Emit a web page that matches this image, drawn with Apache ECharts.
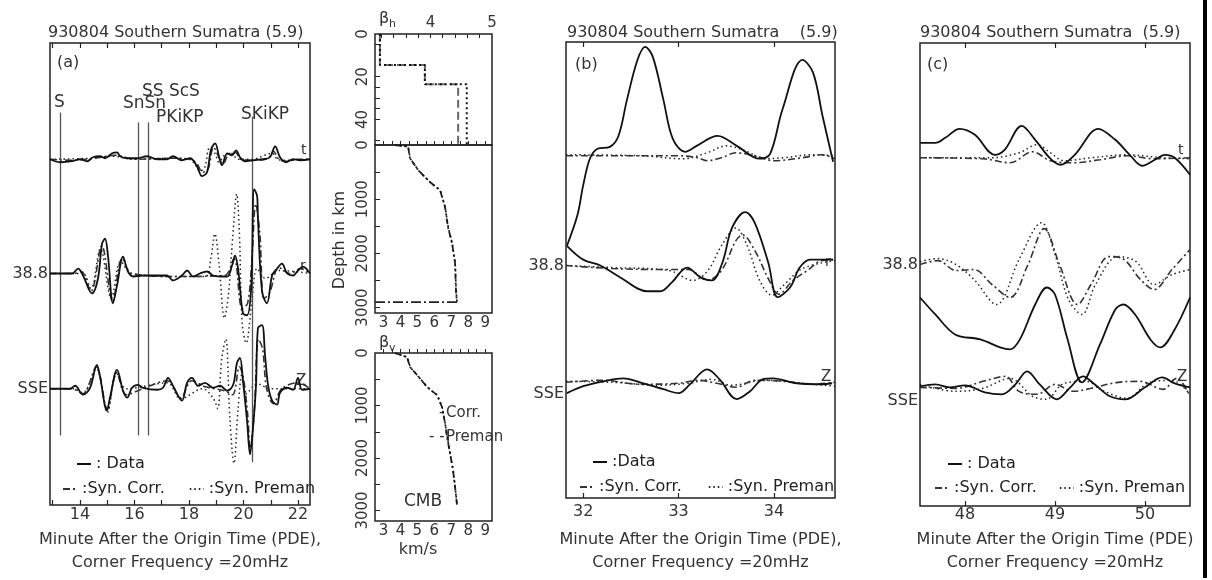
<!DOCTYPE html>
<html>
<head>
<meta charset="utf-8">
<title>930804 Southern Sumatra</title>
<script src="https://cdn.jsdelivr.net/npm/echarts@6/dist/echarts.min.js"></script>
<style>
html, body { margin: 0; padding: 0; background: #fff; }
#chart { width: 1212px; height: 580px; }
</style>
</head>
<body>
<div id="chart"></div>
<script>
// ---- panel (a): time (min), amplitude relative to the trace baseline
const aBase = [34.8, 23.3, 11.7]; // t, r, z
const aTData = [[12.9,0],[13.27,-0.3],[13.71,-0.2],[14.0,0],[14.26,-0.2],[14.48,0.2],[14.73,0.3],[14.92,0.1],[15.18,0.6],[15.36,0.7],[15.47,0.3],[15.73,0.1],[16.09,0.1],[16.46,0.3],[16.83,0],[17.19,0],[17.41,0.3],[17.74,-0.1],[18.04,0.1],[18.29,-0.7],[18.48,-1.7],[18.66,-1.3],[18.81,1.0],[18.96,1.6],[19.1,0.3],[19.21,-0.6],[19.4,0.6],[19.58,0.4],[19.73,0.9],[19.87,0.2],[20.06,-0.2],[20.35,-0.1],[20.72,0],[20.97,0.2],[21.16,1.3],[21.34,0.2],[21.56,-0.3],[21.82,0],[22.07,-0.1],[22.44,0]];
const aTCorr = [[12.9,0],[13.6,-0.1],[14.5,0.1],[15.3,0.4],[16.0,0],[17.4,0.1],[18.05,0],[18.3,-0.5],[18.5,-1.3],[18.7,-1.0],[18.9,1.2],[19.1,0.2],[19.25,-0.5],[19.45,0.5],[19.7,0.7],[19.9,0],[20.4,-0.1],[20.9,0.1],[21.1,0.8],[21.3,0],[21.6,-0.2],[22.0,0],[22.44,0]];
const aTPreman = [[12.9,0],[14.4,0.1],[15.2,0.3],[16.0,0],[17.3,0.1],[18.0,0],[18.2,-0.4],[18.4,-1.2],[18.58,-0.8],[18.75,1.1],[18.95,0.6],[19.1,-0.3],[19.3,0.4],[19.55,0.6],[19.8,0],[20.3,0],[21.05,0.6],[21.25,0],[21.6,-0.1],[22.44,0]];
const aRData = [[12.9,0],[13.71,0],[13.93,0.5],[14.11,-0.2],[14.44,-2.0],[14.66,-0.5],[14.81,3.0],[14.92,3.5],[15.03,1.7],[15.21,-3.0],[15.36,-1.2],[15.58,1.7],[15.76,0.2],[15.95,-0.3],[16.31,-0.2],[16.83,-0.2],[17.19,-0.2],[17.41,-0.7],[17.74,-0.2],[17.93,0.3],[18.15,-0.3],[18.4,0],[18.66,0.2],[18.88,-0.2],[19.14,-0.3],[19.4,-0.3],[19.58,0.8],[19.69,1.8],[19.8,0.5],[19.98,-4.0],[20.13,-4.2],[20.28,-1.5],[20.39,8.5],[20.5,7.8],[20.53,5.5],[20.68,-1.8],[20.86,-3.0],[21.05,-0.2],[21.23,0.5],[21.41,1.0],[21.6,0],[21.82,-0.2],[22.0,0.3],[22.18,0.7],[22.44,0]];
const aRCorr = [[12.9,0],[13.8,0],[14.05,0.2],[14.4,-1.8],[14.8,2.8],[15.2,-2.8],[15.55,1.5],[15.9,0],[17.5,-0.3],[19.3,-0.2],[19.65,1.5],[19.95,-3.5],[20.15,-3.0],[20.3,1.0],[20.45,7.0],[20.6,4.0],[20.75,-2.5],[20.95,-2.0],[21.3,0.6],[21.7,0],[22.1,0.5],[22.44,0]];
const aRPreman = [[12.9,0],[13.9,0],[14.1,0.1],[14.4,-1.5],[14.75,2.5],[15.15,-2.5],[15.5,1.2],[15.9,0],[17.5,-0.3],[18.6,-0.3],[18.8,1.5],[18.95,4.0],[19.1,1.0],[19.3,-4.5],[19.45,-2.0],[19.6,3.5],[19.75,8.0],[19.85,4.0],[19.95,-5.0],[20.1,-7.0],[20.3,-3.0],[20.5,0.5],[20.8,-0.5],[21.3,0.3],[22.44,0]];
const aZData = [[12.9,0],[13.63,0],[13.82,0.3],[14.11,-0.6],[14.37,0.1],[14.62,2.4],[14.73,1.3],[14.99,-2.2],[15.1,-0.9],[15.36,1.9],[15.58,-0.2],[15.73,-0.9],[15.91,0.1],[16.13,0.4],[16.31,0.1],[16.83,-0.1],[17.05,0.1],[17.23,1.1],[17.41,0.3],[17.74,-1.2],[17.93,0.6],[18.11,1.1],[18.33,0.3],[18.59,0.6],[18.88,0.1],[19.14,0.3],[19.4,-0.2],[19.62,0.4],[19.76,2.6],[19.87,3.1],[19.98,0.8],[20.13,-3.2],[20.24,-6.6],[20.35,-3.9],[20.46,0.4],[20.53,6.1],[20.68,6.4],[20.79,3.4],[20.9,0.4],[21.05,-1.2],[21.23,-1.6],[21.34,-0.4],[21.6,0.1],[21.82,-0.1],[22.0,1.1],[22.15,-0.1],[22.44,0]];
const aZCorr = [[12.9,0],[13.7,0],[14.1,-0.5],[14.6,2.2],[15.0,-2.0],[15.35,1.6],[15.7,-0.6],[16.3,0],[17.2,0.8],[17.7,-0.9],[18.1,0.8],[18.6,0.2],[19.3,-0.2],[19.6,-0.6],[19.85,2.2],[20.0,1.0],[20.15,-2.5],[20.25,-6.0],[20.4,-2.0],[20.55,5.0],[20.7,4.0],[20.85,0],[21.1,-1.5],[21.4,0],[22.0,0.6],[22.44,0]];
const aZPreman = [[12.9,0],[13.75,0],[14.1,-0.4],[14.6,2.0],[15.0,-2.4],[15.35,1.5],[15.7,0],[17.2,0.6],[17.7,-1.0],[18.5,0],[18.9,-1.0],[19.05,-2.0],[19.2,3.0],[19.35,5.0],[19.5,-3.0],[19.65,-7.5],[19.8,-2.0],[19.95,1.5],[20.1,-0.5],[20.5,0.5],[21.0,0],[22.44,0]];
const phaseTimes = [13.27, 16.13, 16.5, 20.31];
const phaseTops = [39.5, 38.5, 38.5, 39.1];
const phaseBottoms = [7.0, 7.0, 7.0, 4.3];

// ---- panel (b)
const bBase = [34.6, 23.5, 11.6];
const bTData = [[31.83,-9.1],[31.94,-6.0],[32.0,-3.0],[32.07,-0.3],[32.15,0.7],[32.28,0.9],[32.37,2.0],[32.46,5.7],[32.57,9.7],[32.65,11.0],[32.73,10.0],[32.84,5.7],[32.94,1.7],[33.07,0.4],[33.19,1.0],[33.41,2.0],[33.61,1.0],[33.85,-0.3],[33.96,0.2],[34.09,4.7],[34.3,9.7],[34.41,8.4],[34.51,4.0],[34.62,-0.6]];
const bTCorr = [[31.82,0],[32.5,0],[33.0,0],[33.2,-0.2],[33.3,-0.5],[33.45,-0.2],[33.6,0.3],[33.8,0],[34.0,-0.5],[34.3,-0.2],[34.5,0.1],[34.64,-0.3]];
const bTPreman = [[31.82,0.1],[32.6,0],[33.05,-0.3],[33.3,0.3],[33.5,1.0],[33.7,0.5],[33.9,-0.3],[34.1,-0.2],[34.4,0.1],[34.64,0]];
const bRData = [[31.83,2.0],[32.0,0.6],[32.18,0],[32.39,-1.2],[32.67,-2.6],[32.81,-2.6],[32.93,-1.7],[33.09,-0.2],[33.23,-1.2],[33.35,-1.5],[33.46,0.3],[33.56,3.8],[33.7,5.4],[33.8,4.3],[33.94,0.3],[34.04,-3.2],[34.17,-2.2],[34.27,-0.2],[34.38,0.6],[34.48,0.6],[34.62,0.6]];
const bRCorr = [[31.82,0],[32.3,-0.3],[32.8,-0.4],[33.1,-0.4],[33.3,-1.5],[33.45,-0.5],[33.6,2.5],[33.67,3.1],[33.8,1.5],[33.95,-1.5],[34.05,-2.9],[34.2,-1.5],[34.35,-0.5],[34.5,0.5],[34.64,0.6]];
const bRPreman = [[31.82,0],[32.3,-0.2],[32.9,-0.5],[33.15,-1.5],[33.3,-0.6],[33.45,2.0],[33.6,3.8],[33.72,2.0],[33.85,-1.5],[33.98,-3.0],[34.1,-2.0],[34.3,-0.3],[34.64,0.5]];
const bZData = [[31.83,-1.0],[32.0,-0.3],[32.21,0.2],[32.42,0.5],[32.63,0],[32.84,-0.6],[33.0,-1.0],[33.12,-0.1],[33.3,1.4],[33.43,0.4],[33.61,-1.6],[33.75,-0.8],[33.88,0.4],[33.99,0.5],[34.24,0],[34.51,-0.1],[34.61,0]];
const bZCorr = [[31.82,0.1],[32.2,0.3],[32.6,-0.1],[33.0,0],[33.2,0.3],[33.4,0],[33.6,-0.4],[33.8,0.3],[34.1,0.2],[34.4,-0.1],[34.64,0.1]];
const bZPreman = [[31.82,0.2],[32.3,0.1],[32.8,-0.2],[33.1,0],[33.35,0.4],[33.55,-0.2],[33.9,0.3],[34.3,0],[34.64,-0.3]];

// ---- panel (c)
const cBase = [34.9, 24.2, 12.0];
const cTData = [[47.5,1.5],[47.67,1.5],[47.78,2.0],[47.94,2.9],[48.11,2.3],[48.33,0.3],[48.44,0.8],[48.63,3.2],[48.78,1.8],[48.94,0],[49.06,-0.7],[49.22,0.3],[49.48,2.9],[49.67,1.8],[49.83,0.3],[49.97,-0.8],[50.11,-0.2],[50.22,0.3],[50.33,0],[50.5,-1.7]];
const cTCorr = [[47.5,0],[48.2,-0.1],[48.5,-0.5],[48.75,0.6],[48.95,-0.3],[49.2,-0.5],[49.5,-0.2],[49.8,0.2],[50.1,-0.1],[50.5,0]];
const cTPreman = [[47.5,0],[48.3,0],[48.6,0.5],[48.8,1.3],[48.95,0.5],[49.1,-0.3],[49.4,0],[49.8,0.3],[50.2,0],[50.5,-0.1]];
const cRData = [[47.5,-3.3],[47.67,-5.0],[47.89,-7.0],[48.17,-7.5],[48.39,-8.3],[48.5,-8.5],[48.61,-7.5],[48.78,-4.0],[48.91,-2.3],[49.0,-3.0],[49.14,-7.5],[49.3,-11.8],[49.5,-8.0],[49.67,-4.5],[49.76,-4.0],[49.89,-5.0],[50.06,-7.5],[50.17,-8.3],[50.33,-6.5],[50.5,-3.3]];
const cRCorr = [[47.5,0],[47.7,0.4],[47.9,-0.6],[48.1,-0.5],[48.3,-2.0],[48.5,-3.3],[48.7,0],[48.88,3.6],[49.05,0],[49.25,-4.0],[49.4,-2.0],[49.6,0.8],[49.75,0.6],[49.95,-1.5],[50.1,-2.5],[50.3,-0.5],[50.5,1.5]];
const cRPreman = [[47.5,0.3],[47.7,0.6],[47.9,0],[48.1,-1.5],[48.35,-4.0],[48.6,0.5],[48.85,4.2],[49.0,1.0],[49.15,-3.5],[49.3,-5.0],[49.45,-2.0],[49.7,0.8],[49.9,0.3],[50.1,-2.0],[50.3,-1.0],[50.5,-0.5]];
const cZData = [[47.5,0],[47.67,0.2],[47.83,-0.1],[48.0,0.1],[48.22,-0.6],[48.41,-0.8],[48.56,0.2],[48.69,1.5],[48.83,0.2],[49.02,-1.3],[49.17,-0.1],[49.31,1.0],[49.44,0.2],[49.61,-1.0],[49.78,-1.3],[50.0,-0.1],[50.19,0.9],[50.33,0.3],[50.5,-0.1]];
const cZCorr = [[47.5,-0.1],[47.9,-0.2],[48.2,0.5],[48.45,1.0],[48.6,-0.5],[48.8,-0.8],[49.0,0.2],[49.2,-0.5],[49.4,-0.2],[49.7,0.4],[49.95,0.5],[50.2,-0.3],[50.35,0.8],[50.5,-1.0]];
const cZPreman = [[47.5,0.2],[47.9,-0.5],[48.2,-0.2],[48.5,0.8],[48.75,-1.0],[48.9,-1.3],[49.1,0.3],[49.35,0.5],[49.55,-0.5],[49.8,-1.2],[50.05,0.4],[50.3,0.6],[50.5,-0.8]];

// ---- velocity profiles: [km/s, depth km]
const crustCorr = [[3.18,0],[3.18,14.5],[3.91,14.5],[3.91,23.5],[4.45,23.5],[4.45,52]];
const crustPreman = [[3.18,0],[3.18,14.5],[3.91,14.5],[3.91,23.5],[4.59,23.5],[4.59,52]];
const betaHCorr = [[3.68,0],[4.45,30],[4.56,240],[5.04,461],[5.74,683],[6.33,830],[6.63,1144],[6.8,1513],[7.04,1808],[7.22,2177],[7.28,2731],[7.34,2900]];
const betaHPreman = [[3.68,0],[4.45,30],[4.58,250],[5.06,470],[5.76,690],[6.35,840],[6.64,1150],[6.82,1520],[7.05,1810],[7.23,2180],[7.29,2730],[7.34,2900]];
const cmbLine = [[2.5,2900],[7.34,2900]];
const betaVCorr = [[3.68,0],[4.39,76],[4.56,267],[4.98,419],[5.57,648],[6.16,800],[6.45,1029],[6.63,1334],[6.75,1600],[6.92,1905],[7.1,2229],[7.22,2553],[7.34,2900]];
const betaVPreman = [[3.68,0],[4.4,80],[4.58,270],[5.0,425],[5.6,655],[6.18,805],[6.46,1035],[6.64,1340],[6.76,1605],[6.93,1910],[7.11,2235],[7.23,2560],[7.34,2900]];

// ---- tick labels
const aTicks = [13,14,15,16,17,18,19,20,21,22];
const aLabels = [14,16,18,20,22];
const bTicks = [32,33,34];
const cTicks = [48,49,50];
const hTicks = [3.2,3.4,3.6,3.8,4.0,4.2,4.4,4.6,4.8];
const hLabels = [4,5];
const velTicks = [3,3.5,4,4.5,5,5.5,6,6.5,7,7.5,8,8.5,9];
const velLabels = [3,4,5,6,7,8,9];
const crustDepthTicks = [5,20,25,30,35,40,50];
const crustDepthLabels = [0,20,40];
const mantleDepthTicks = [500,1000,1500,2000,2500,3000];
const mantleDepthLabels = [0,1000,2000,3000];
const sideLabels = ['SSE', '38.8'];

const FONT = '"DejaVu Sans", sans-serif';
const INK = '#222';
const TXT = '#333';

const traceStyle = {
  'Data': { color: '#111', width: 1.8, type: 'solid', z: 5 },
  'Syn. Corr.': { color: '#333', width: 1.6, type: [7, 3, 2, 3], z: 4 },
  'Syn. Preman': { color: '#222', width: 1.5, type: [1.5, 3], z: 3 }
};
const names = ['Data', 'Syn. Corr.', 'Syn. Preman'];

const shift = (pairs, base) => pairs.map(p => [p[0], p[1] + base]);

function trace(name, pairs, base, xi, yi) {
  const s = traceStyle[name];
  return {
    name: name, type: 'line', xAxisIndex: xi, yAxisIndex: yi,
    data: shift(pairs, base), symbol: 'none', smooth: 0.35, z: s.z,
    lineStyle: { color: s.color, width: s.width, type: s.type },
    itemStyle: { color: s.color }, silent: true
  };
}

const panels = [
  { xi: 0, yi: 0, base: aBase, sets: [[aTData, aTCorr, aTPreman], [aRData, aRCorr, aRPreman], [aZData, aZCorr, aZPreman]] },
  { xi: 5, yi: 4, base: bBase, sets: [[bTData, bTCorr, bTPreman], [bRData, bRCorr, bRPreman], [bZData, bZCorr, bZPreman]] },
  { xi: 7, yi: 5, base: cBase, sets: [[cTData, cTCorr, cTPreman], [cRData, cRCorr, cRPreman], [cZData, cZCorr, cZPreman]] }
];

const series = [];
panels.forEach(p => {
  p.sets.forEach((set, k) => {
    set.forEach((pairs, j) => series.push(trace(names[j], pairs, p.base[k], p.xi, p.yi)));
  });
});

// phase arrival lines in (a)
series.push({
  type: 'line', xAxisIndex: 0, yAxisIndex: 0, data: [], silent: true,
  markLine: {
    symbol: 'none', silent: true, animation: false, label: { show: false },
    lineStyle: { color: '#555', width: 1.3, type: 'solid' },
    data: phaseTimes.map((t, i) => [{ coord: [t, phaseTops[i]] }, { coord: [t, phaseBottoms[i]] }])
  }
});

function profile(name, data, xi, yi, style) {
  return {
    name: name, type: 'line', xAxisIndex: xi, yAxisIndex: yi, data: data,
    symbol: 'none', smooth: false, silent: true, lineStyle: style
  };
}
series.push(profile('Corr.', crustCorr, 2, 1, { color: '#666', width: 2, type: [8, 4] }));
series.push(profile('Preman', crustPreman, 2, 1, { color: '#111', width: 2, type: [2, 3] }));
series.push(profile('Corr.', betaHCorr, 3, 2, { color: '#222', width: 1.8, type: [6, 3, 2, 3] }));
series.push(profile('Preman', betaHPreman, 3, 2, { color: '#111', width: 1.6, type: [2, 3] }));
series.push(profile('CMB', cmbLine, 3, 2, { color: '#222', width: 1.6, type: [10, 3, 2, 3] }));
series.push(profile('Corr.', betaVCorr, 4, 3, { color: '#222', width: 1.8, type: [6, 3, 2, 3] }));
series.push(profile('Preman', betaVPreman, 4, 3, { color: '#111', width: 1.6, type: [2, 3] }));

const tickStyle = { inside: true, length: 5, lineStyle: { color: INK, width: 1.2 } };
const labelStyle = { color: TXT, fontSize: 16, fontFamily: FONT };
const nameStyle = { color: TXT, fontSize: 16, lineHeight: 23.5, fontFamily: FONT };
const axisName = 'Minute After the Origin Time (PDE),\nCorner Frequency =20mHz';

function timeAxes(gi, min, max, ticks, labels, margin, nameGap, name) {
  return [
    { gridIndex: gi, type: 'value', min: min, max: max, axisLine: { show: false }, splitLine: { show: false },
      axisTick: Object.assign({ customValues: ticks }, tickStyle),
      axisLabel: Object.assign({ customValues: labels, margin: margin }, labelStyle),
      name: name, nameLocation: 'middle', nameGap: nameGap, nameTextStyle: nameStyle },
    { gridIndex: gi, type: 'value', position: 'top', min: min, max: max, axisLine: { show: false }, splitLine: { show: false },
      axisTick: Object.assign({ customValues: ticks }, tickStyle), axisLabel: { show: false } }
  ];
}

function velAxis(gi, pos, min, max, ticks, labels, margin) {
  return { gridIndex: gi, type: 'value', position: pos, min: min, max: max,
    axisLine: { show: false }, splitLine: { show: false },
    axisTick: { inside: true, length: 4, customValues: ticks, lineStyle: { color: INK } },
    axisLabel: { customValues: labels, margin: margin, color: TXT, fontSize: 15, fontFamily: FONT } };
}

function depthAxis(gi, max, ticks, labels) {
  return { gridIndex: gi, type: 'value', inverse: true, min: 0, max: max,
    axisLine: { show: false }, splitLine: { show: false },
    axisTick: { inside: true, length: 5, customValues: ticks, lineStyle: { color: INK } },
    axisLabel: { customValues: labels, rotate: 90, margin: 4, color: TXT, fontSize: 15, fontFamily: FONT,
      formatter: v => String(v) } };
}

function sideAxis(gi, max, values) {
  return { gridIndex: gi, type: 'value', min: 0, max: max,
    axisLine: { show: false }, axisTick: { show: false }, splitLine: { show: false },
    axisLabel: { customValues: values, margin: 2, color: TXT, fontSize: 16, fontFamily: FONT,
      formatter: v => sideLabels[values.indexOf(v)] || '' } };
}

const xAxis = [].concat(
  timeAxes(0, 12.9, 22.44, aTicks, aLabels, 2, 23, axisName),
  [velAxis(1, 'top', 3.1, 5, hTicks, hLabels, 3),
   velAxis(2, 'bottom', 2.5, 9.4, velTicks, velLabels, 3),
   velAxis(3, 'bottom', 2.5, 9.4, velTicks, velLabels, 3)],
  timeAxes(4, 31.82, 34.64, bTicks, bTicks, 6, 30, axisName),
  timeAxes(5, 47.5, 50.5, cTicks, cTicks, 1, 17, axisName.replace('),', ')'))
);

const yAxis = [
  sideAxis(0, 46.5, [aBase[2], aBase[1]]),
  depthAxis(1, 52, crustDepthTicks, crustDepthLabels),
  depthAxis(2, 3100, mantleDepthTicks, mantleDepthLabels),
  depthAxis(3, 3200, mantleDepthTicks, mantleDepthLabels),
  sideAxis(4, 46.1, [10.5, bBase[1]]),
  sideAxis(5, 46.4, [10.5, cBase[1]])
];

const frame = { show: true, borderColor: INK, borderWidth: 1.5, backgroundColor: 'transparent' };
const grid = [
  Object.assign({ left: 50, top: 43, width: 260, height: 465 }, frame),
  Object.assign({ left: 375, top: 34, width: 117, height: 111 }, frame),
  Object.assign({ left: 375, top: 145, width: 117, height: 168 }, frame),
  Object.assign({ left: 375, top: 353, width: 117, height: 168 }, frame),
  Object.assign({ left: 566, top: 42, width: 269, height: 461 }, frame),
  Object.assign({ left: 920, top: 43, width: 270, height: 464 }, frame)
];

function legendRow(left, top, data, gap, fmt) {
  return { left: left, top: top, data: data, orient: 'horizontal', itemWidth: 14, itemHeight: 10,
    itemGap: gap, padding: 0, selectedMode: false, formatter: fmt,
    itemStyle: { opacity: 0 },
    textStyle: { color: INK, fontSize: 16, fontFamily: FONT } };
}
const legend = [
  legendRow(76, 456, ['Data'], 10, ': {name}'),
  legendRow(62, 481, ['Syn. Corr.', 'Syn. Preman'], 24, ':{name}'),
  legendRow(592, 454, ['Data'], 10, ':{name}'),
  legendRow(579, 479, ['Syn. Corr.', 'Syn. Preman'], 26, ':{name}'),
  legendRow(947, 456, ['Data'], 10, ': {name}'),
  legendRow(934, 480, ['Syn. Corr.', 'Syn. Preman'], 22, ':{name}')
];

function txt(text, x, y, size, extra) {
  return Object.assign({ type: 'text', x: x, y: y, silent: true,
    style: Object.assign({ text: text, fill: TXT, font: size + 'px ' + FONT, align: 'left', verticalAlign: 'middle' }, (extra || {}).style || {}) },
    extra && extra.rotation !== undefined ? { rotation: extra.rotation } : {});
}

const graphic = [
  txt('930804 Southern Sumatra (5.9)', 48, 33, 16),
  txt('930804 Southern Sumatra    (5.9)', 567, 33, 16),
  txt('930804 Southern Sumatra  (5.9)', 920, 33, 16),
  txt('(a)', 57, 63, 16), txt('(b)', 575, 65, 16), txt('(c)', 927, 65, 16),
  txt('S', 54, 103, 17), txt('SnSn', 123, 104, 17), txt('SS ScS', 142, 92, 17),
  txt('PKiKP', 156, 118, 17), txt('SKiKP', 241, 115, 17),
  txt('t', 301, 150, 14), txt('r', 300, 266, 14), txt('Z', 296, 381, 15),
  txt('r', 825, 262, 14), txt('Z', 821, 377, 15),
  txt('t', 1178, 150, 14), txt('Z', 1177, 377, 15),
  txt('Depth in km', 340, 240, 16, { rotation: Math.PI / 2, style: { align: 'center' } }),
  txt('β', 379, 19, 16), txt('h', 389, 24, 11),
  txt('β', 379, 343, 16), txt('v', 389, 348, 11),
  txt('-', 439, 413, 15), txt('Corr.', 446, 413, 15),
  txt('- -', 429, 437, 15), txt('Preman', 446, 437, 15),
  txt('CMB', 404, 502, 17),
  txt('km/s', 418, 550, 16, { style: { align: 'center' } }),
  { type: 'rect', silent: true, shape: { x: 1203, y: 0, width: 4, height: 578 }, style: { fill: '#000' } }
];

const myChart = echarts.init(document.getElementById('chart'), null, { renderer: 'canvas' });
myChart.setOption({
  animation: false,
  backgroundColor: '#fff',
  textStyle: { fontFamily: FONT },
  grid: grid,
  xAxis: xAxis,
  yAxis: yAxis,
  legend: legend,
  graphic: graphic,
  series: series
});
</script>
</body>
</html>
